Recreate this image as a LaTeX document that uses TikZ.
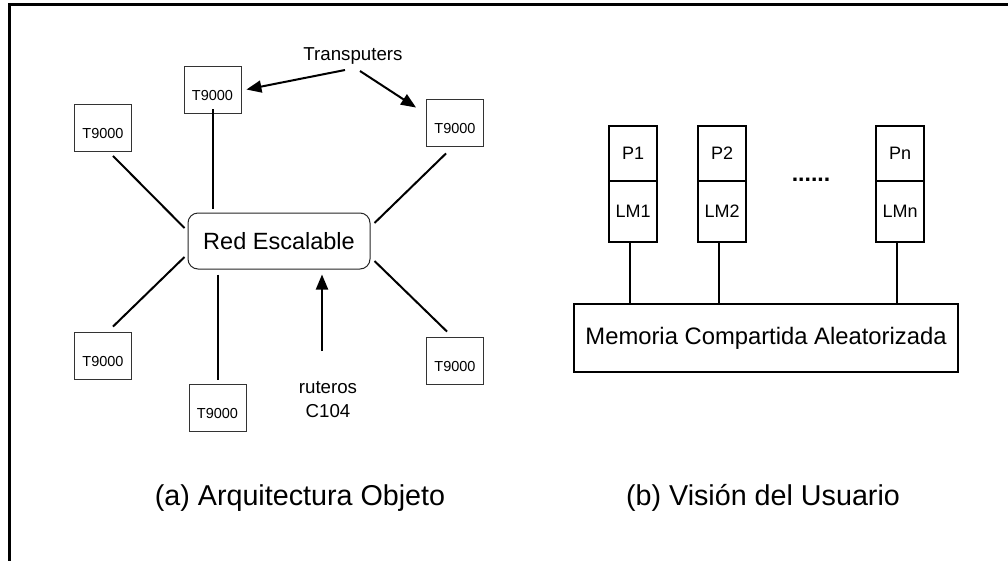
\documentclass[tikz,border=0pt]{standalone}
\usepackage{fontspec}
\setmainfont{Liberation Sans}
\usetikzlibrary{arrows.meta,calc}
\begin{document}
\begin{tikzpicture}[x=1pt,y=-1pt,
  tbox/.style={draw=black!80, line width=0.9pt, minimum width=57pt, inner sep=0pt,
    text height=34.2pt, text depth=12.8pt, font=\fontsize{14.5}{16}\selectfont},
  netbox/.style={draw=black!85, line width=1pt, rounded corners=10pt, minimum width=182pt,
    minimum height=56pt, inner sep=0pt, font=\fontsize{23.5}{26}\selectfont},
  lbl/.style={inner sep=0pt, anchor=base, font=\fontsize{18.7}{22}\selectfont},
  captxt/.style={inner sep=0pt, anchor=base, font=\fontsize{28.7}{32}\selectfont},
  conn/.style={line width=2pt},
  arr/.style={line width=2pt, -{Triangle[length=15pt,width=12pt]}},
  pbox/.style={draw, line width=1.3pt, minimum width=48pt, minimum height=55pt, inner sep=0pt,
    font=\fontsize{18}{20}\selectfont},
  lmbox/.style={pbox, minimum height=61pt},
  membox/.style={draw, line width=1.4pt, minimum width=384pt, minimum height=68pt, inner sep=0pt,
    font=\fontsize{23.8}{26}\selectfont},
  bus/.style={line width=1.8pt}
]
\useasboundingbox (0,0) rectangle (1008,560);
\clip (0,0) rectangle (1008,560);
\fill[white] (0,0) rectangle (1008,560);
% frame
\draw[line width=3pt] (9,580) -- (9,4) -- (1030,4);

% (a) architecture
\node[netbox] (red) at (279,241) {Red Escalable};
\node[tbox] (tTop) at (212.5,89.5) {T9000};
\node[tbox] (tLU) at (103,127.5) {T9000};
\node[tbox] (tRU) at (455,122.5) {T9000};
\node[tbox] (tLL) at (103,355.5) {T9000};
\node[tbox] (tB) at (217.5,408) {T9000};
\node[tbox] (tRL) at (455,360.5) {T9000};

\draw[conn] ([yshift=4pt]tTop.south) -- ([yshift=4pt]tTop.south |- red.north);
\draw[conn] ($(tLU.south)+(10,4.5)$) -- ($(red.west)+(-3,-13)$);
\draw[conn] ($(tRU.south)+(-9,7)$) -- ($(red.east)+(4,-18)$);
\draw[conn] ($(red.west)+(-3,16)$) -- ($(tLL.north)+(10,-5)$);
\draw[conn] ($(tB.north |- red.south)+(0,5)$) -- ($(tB.north)+(0,-4)$);
\draw[conn] ($(red.east)+(4,20)$) -- ($(tRL.north)+(-8,-5)$);

\node[lbl] (transp) at (353,60) {Transputers};
\draw[arr] ($(transp.base)+(-8,10)$) -- ($(tTop.east)+(5,0)$);
\draw[arr] ($(transp.base)+(7,11)$) -- ($(tRU.north west)+(-10,9)$);

\node[lbl] (rut1) at (328,393) {ruteros};
\node[lbl] (rut2) at (328,417) {C104};
\draw[arr] ($(rut1.base)+(-6,-42)$) -- ($(red.south)+(43,5)$);

\node[captxt] (capa) at (300,505) {(a) Arquitectura Objeto};

% (b) user view
\node[pbox] (p1) at (633,153.5) {P1};
\node[lmbox] (lm1) at (633,211.5) {LM1};
\node[pbox] (p2) at (722,153.5) {P2};
\node[lmbox] (lm2) at (722,211.5) {LM2};
\node[pbox] (pn) at (900,153.5) {Pn};
\node[lmbox] (lmn) at (900,211.5) {LMn};
\node[inner sep=0pt, anchor=base, font=\fontsize{23}{26}\selectfont\bfseries] (dots) at (811,181) {......};
\node[membox] (mem) at (766,338) {Memoria Compartida Aleatorizada};

\draw[bus] ([xshift=-3pt]lm1.south) -- ++(0,62);
\draw[bus] ([xshift=-3pt]lm2.south) -- ++(0,62);
\draw[bus] ([xshift=-3pt]lmn.south) -- ++(0,62);

\node[captxt] (capb) at (763,505) {(b) Visión del Usuario};
\end{tikzpicture}
\end{document}
